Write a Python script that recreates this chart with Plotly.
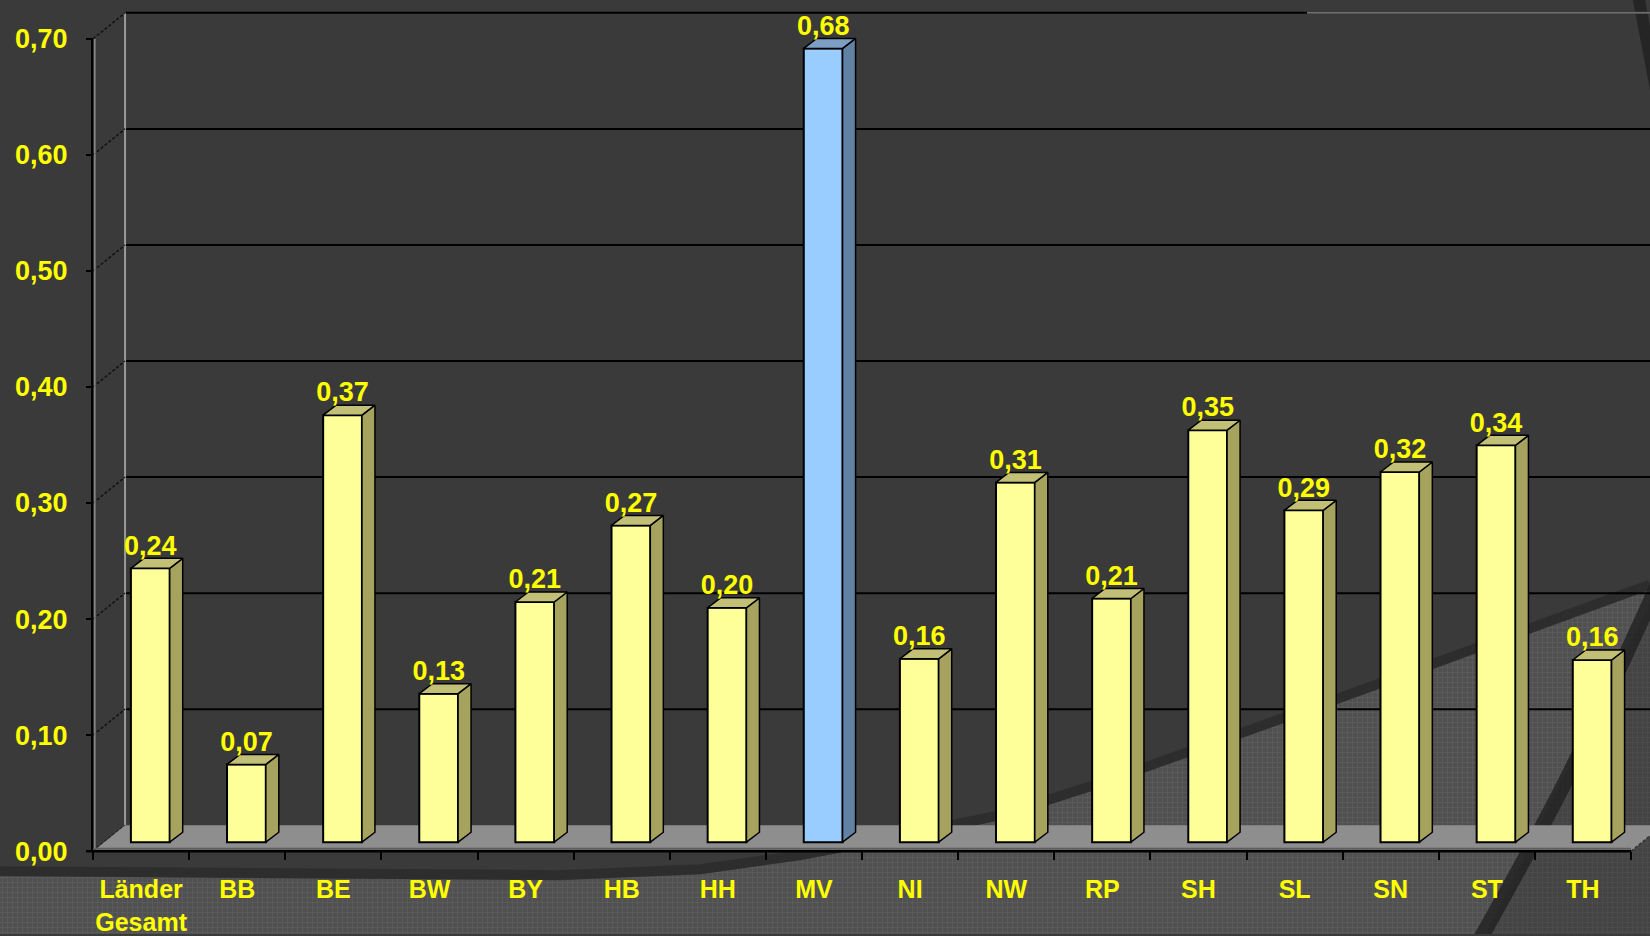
import plotly.graph_objects as go

# ---------------- data ----------------
categories = ["Länder<br>Gesamt", "BB", "BE", "BW", "BY", "HB", "HH", "MV",
              "NI", "NW", "RP", "SH", "SL", "SN", "ST", "TH"]
values = [0.236, 0.067, 0.368, 0.128, 0.207, 0.273, 0.202, 0.684,
          0.158, 0.310, 0.210, 0.355, 0.286, 0.319, 0.342, 0.157]
highlight = ["MV"]
y_ticks = [0.0, 0.1, 0.2, 0.3, 0.4, 0.5, 0.6, 0.7]

# ---------------- geometry (pixel calibration) ----------------
W, H = 1650, 936
CAT_PX = 96.125      # pixels per category
VAL_PX = 1163.0      # pixels per value unit
X0_PX = 141.1        # front-plane centre of first category
Y0_PX = 853.0        # front-plane zero line

def xd(px): return (px - X0_PX) / CAT_PX
def yd(py): return (Y0_PX - py) / VAL_PX
def ddx(px): return px / CAT_PX
def ddy(py): return py / VAL_PX

X_RANGE = [xd(0), xd(W)]
Y_RANGE = [yd(H), yd(0)]
BACK_DX, BACK_DY = ddx(32), ddy(26)
BAR_DX, BAR_DY = ddx(9.2), ddy(9)
DEP_DX, DEP_DY = ddx(13), ddy(10)
BAR_W = ddx(38.8)

n = len(categories)
idx = list(range(n))
names = [c.replace("<br>", " ") for c in categories]
is_hi = [nm in highlight for nm in names]

FONT = "Liberation Sans, Arial, sans-serif"
YEL = "#FFFF00"
BG = "#3a3a3a"

fig = go.Figure()

def poly_px(points):
    return [xd(p[0]) for p in points], [yd(p[1]) for p in points]

# --- textured lower background region ---
tex = [(0, 878), (300, 880), (560, 882), (700, 876), (800, 862), (900, 843),
       (1000, 822), (1100, 790), (1341, 704), (1633, 597), (1650, 591),
       (1650, 936), (0, 936), (0, 878)]
tx, ty = poly_px(tex)
fig.add_trace(go.Scatter(x=tx, y=ty, mode="lines", fill="toself", line=dict(width=0),
                         fillcolor="#535353",
                         fillpattern=dict(shape="+", fgcolor="#686868", bgcolor="#505050",
                                          size=5, solidity=0.3),
                         hoverinfo="skip"))
# darker part right of the swoosh
rx, ry = poly_px([(1486, 936), (1660, 585), (1660, 936), (1486, 936)])
fig.add_trace(go.Scatter(x=rx, y=ry, mode="lines", fill="toself", line=dict(width=0),
                         fillcolor="#474747",
                         fillpattern=dict(shape="+", fgcolor="#555555", bgcolor="#444444",
                                          size=5, solidity=0.3),
                         hoverinfo="skip"))
# soft shadow along the upper edge
shadow = [(p[0], p[1] - 5) for p in tex[:11]]
sx, sy = poly_px(shadow)
fig.add_trace(go.Scatter(x=sx, y=sy, mode="lines",
                         line=dict(color="rgba(30,30,30,0.45)", width=10), hoverinfo="skip"))
# dark swoosh stripes on the right
for seg, wdt in (([(1478, 945), (1567, 780), (1665, 570)], 15),
                 ([(1638, -5), (1658, 100)], 12)):
    sx, sy = poly_px(seg)
    fig.add_trace(go.Scatter(x=sx, y=sy, mode="lines", line_shape="spline",
                             line=dict(color="rgba(32,32,32,0.8)", width=wdt), hoverinfo="skip"))

# --- back wall gridlines ---
gx, gy = [], []
for v in y_ticks[1:]:
    gx += [-0.5 + BACK_DX, X_RANGE[1], None]
    gy += [v + BACK_DY, v + BACK_DY, None]
fig.add_trace(go.Scatter(x=gx, y=gy, mode="lines", line=dict(color="#000000", width=2),
                         hoverinfo="skip"))
# grey top edge at right
fig.add_trace(go.Scatter(x=[xd(1307), X_RANGE[1]], y=[y_ticks[-1] + BACK_DY] * 2, mode="lines",
                         line=dict(color="#6e6e6e", width=2), hoverinfo="skip"))
# back wall left edge
fig.add_trace(go.Scatter(x=[-0.5 + BACK_DX] * 2, y=[BACK_DY, y_ticks[-1] + BACK_DY], mode="lines",
                         line=dict(color="#9a9a9a", width=2), hoverinfo="skip"))
# side wall connectors
cx, cy = [], []
for v in y_ticks:
    cx += [-0.5, -0.5 + BACK_DX, None]
    cy += [v, v + BACK_DY, None]
fig.add_trace(go.Scatter(x=cx, y=cy, mode="lines",
                         line=dict(color="#111111", width=1.5, dash="3px,2px"), hoverinfo="skip"))

# --- floor ---
fx = [-0.5, n - 0.5, n - 0.5 + BACK_DX, -0.5 + BACK_DX, -0.5]
fy = [0, 0, BACK_DY, BACK_DY, 0]
fig.add_trace(go.Scatter(x=fx, y=fy, mode="lines", fill="toself", fillcolor="#8e8e8e",
                         line=dict(width=0), hoverinfo="skip"))
fig.add_trace(go.Scatter(x=[n - 0.5, n - 0.5 + BACK_DX], y=[0, BACK_DY], mode="lines",
                         line=dict(color="#333333", width=1.5, dash="3px,2px"), hoverinfo="skip"))
fig.add_trace(go.Scatter(x=[-0.5, n - 0.5], y=[ddy(2.5)] * 2, mode="lines",
                         line=dict(color="#5e5e5e", width=2), hoverinfo="skip"))
# front axis lines
fig.add_trace(go.Scatter(x=[-0.5 - ddx(1)] * 2, y=[0, y_ticks[-1]], mode="lines",
                         line=dict(color="#000000", width=2), hoverinfo="skip"))
fig.add_trace(go.Scatter(x=[-0.5 + ddx(1.8)] * 2, y=[ddy(3), y_ticks[-1]], mode="lines",
                         line=dict(color="#8a8a8a", width=1.5), hoverinfo="skip"))
fig.add_trace(go.Scatter(x=[-0.5 - ddx(7), n - 0.5], y=[0, 0], mode="lines",
                         line=dict(color="#000000", width=2.5), hoverinfo="skip"))

# --- bars (overlay subplot) ---
front_col = ["#99CCFF" if h else "#FFFF99" for h in is_hi]
fig.add_trace(go.Bar(x=idx, y=values, base=BAR_DY, width=BAR_W, offset=BAR_DX - BAR_W / 2,
                     marker=dict(color=front_col, line=dict(color="#000000", width=2)),
                     xaxis="x2", yaxis="y2", hoverinfo="skip"))

for group, side_c, top_c in ((False, "#a5a35e", "#c2bf76"), (True, "#6082a5", "#7d9fc4")):
    sxp, syp, txp, typ = [], [], [], []
    for i, v, h in zip(idx, values, is_hi):
        if h != group:
            continue
        xl = i + BAR_DX - BAR_W / 2
        xr = xl + BAR_W
        yb, yt = BAR_DY, BAR_DY + v
        sxp += [xr, xr + DEP_DX, xr + DEP_DX, xr, xr, None]
        syp += [yb, yb + DEP_DY, yt + DEP_DY, yt, yb, None]
        txp += [xl, xr, xr + DEP_DX, xl + DEP_DX, xl, None]
        typ += [yt, yt, yt + DEP_DY, yt + DEP_DY, yt, None]
    fig.add_trace(go.Scatter(x=sxp, y=syp, mode="lines", fill="toself", fillcolor=side_c,
                             line=dict(color="#000000", width=1.5), xaxis="x2", yaxis="y2",
                             hoverinfo="skip"))
    fig.add_trace(go.Scatter(x=txp, y=typ, mode="lines", fill="toself", fillcolor=top_c,
                             line=dict(color="#000000", width=1.5), xaxis="x2", yaxis="y2",
                             hoverinfo="skip"))

# value labels
fig.add_trace(go.Scatter(x=[i + BAR_DX for i in idx], y=[BAR_DY + v + ddy(7) for v in values],
                         mode="text", customdata=values, texttemplate="%{customdata:.2f}",
                         textposition="top center",
                         textfont=dict(family=FONT, size=27, color=YEL, weight="bold"),
                         xaxis="x2", yaxis="y2", hoverinfo="skip"))

axis_common = dict(showgrid=False, zeroline=False, showline=False, fixedrange=True)
fig.update_layout(
    width=W, height=H, margin=dict(l=0, r=0, t=0, b=0, pad=0),
    paper_bgcolor=BG, plot_bgcolor=BG, showlegend=False, separators=",.",
    xaxis=dict(domain=[0, 1], range=X_RANGE, anchor="free", position=(H - Y0_PX) / H,
               tickmode="array", tickvals=idx, ticktext=categories, ticks="", tickangle=0,
               tickfont=dict(family=FONT, size=25, color=YEL, weight="bold"),
               ticklabelstandoff=21, **axis_common),
    yaxis=dict(domain=[0, 1], range=Y_RANGE, anchor="free", position=(X0_PX - CAT_PX / 2) / W,
               tickmode="array", tickvals=y_ticks, tickformat=".2f", ticks="outside",
               ticklen=7, tickwidth=2, tickcolor="#000000",
               tickfont=dict(family=FONT, size=27, color=YEL, weight="bold"),
               ticklabelstandoff=13, **axis_common),
    xaxis2=dict(overlaying="x", range=X_RANGE, anchor="free", position=(H - Y0_PX) / H,
                tickmode="array", tickvals=[k - 0.5 for k in range(n + 1)], ticks="outside",
                ticklen=8, tickwidth=2, tickcolor="#000000", showticklabels=False,
                **axis_common),
    yaxis2=dict(overlaying="y", range=Y_RANGE, visible=False, **axis_common),
)

fig.write_html("out.html")
